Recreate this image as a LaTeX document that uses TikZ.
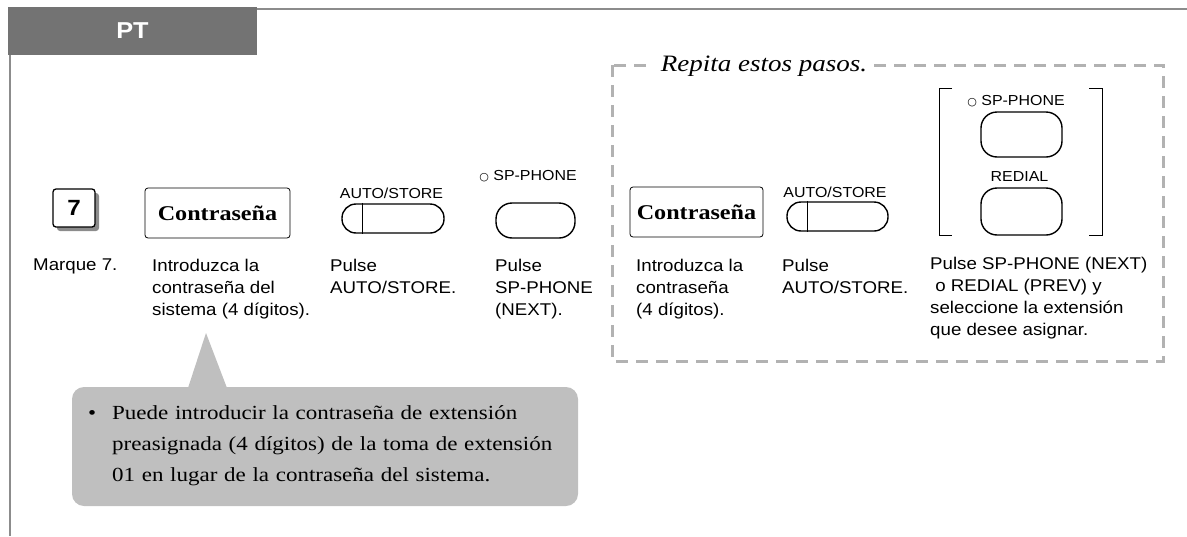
\documentclass[tikz,border=0pt]{standalone}
\usepackage{fontspec}
\setmainfont[FakeStretch=1.15]{Liberation Serif}
\setsansfont[FakeStretch=1.1]{Liberation Sans}
\newfontfamily\symfont{DejaVu Sans}
\usetikzlibrary{positioning, shadows}

\begin{document}
\begin{tikzpicture}[
    x=1pt, y=-1pt,
    frameline/.style={draw=black!45, line width=2.5pt},
    header/.style={rectangle, fill=black!55, text=white, font=\sffamily\bfseries\fontsize{23}{28}\selectfont,
                   minimum width=249pt, minimum height=48pt, inner sep=0pt},
    keybox/.style={rectangle, rounded corners=3pt, draw, line width=1.3pt, fill=white,
                   font=\sffamily\bfseries\fontsize{22}{26}\selectfont, inner sep=0pt,
                   drop shadow={shadow xshift=4pt, shadow yshift=-4pt, fill=black!45, opacity=1}},
    pwbox/.style={rectangle, rounded corners=3pt, draw, line width=0.8pt, inner sep=0pt,
                  font=\bfseries\fontsize{21}{26}\selectfont, minimum height=50pt},
    btnlabel/.style={font=\sffamily\fontsize{14.5}{18}\selectfont, inner sep=0pt},
    stadium/.style={rectangle, draw, line width=1.4pt, rounded corners=14pt, inner sep=0pt},
    softkey/.style={rectangle, draw, line width=1.4pt, rounded corners=16pt, inner sep=0pt},
    steptext/.style={anchor=north west, align=left, inner sep=0pt,
                     font=\sffamily\fontsize{17}{22}\selectfont},
    repeatbox/.style={draw=black!30, line width=3pt, dash pattern=on 12pt off 8pt},
    callout/.style={rectangle, rounded corners=12pt, fill=black!25, inner sep=0pt},
]
\useasboundingbox (0,0) rectangle (1187,536);

%% Frame and header
\node[header] (hdr) at (132.5,31) {PT};
\coordinate (topend) at (1187,9);
\coordinate (leftend) at (10,536);
\draw[frameline] (hdr.north east |- topend) -- (topend);
\draw[frameline] (hdr.south west -| leftend) -- (leftend);

%% Repeat area
\draw[repeatbox] (612,65) rectangle (1163,361);
\node[fill=white, inner xsep=7pt, font=\itshape\fontsize{23.5}{26}\selectfont] (rep) at (764,66) {Repita estos pasos.};

%% Step keys
\node[keybox, minimum width=42pt, minimum height=38pt] (k7) at (74,208) {7};
\node[pwbox, minimum width=145pt] (pw1) at (217.5,213) {Contraseña};

\node[btnlabel] (aslab1) at (391.5,193) {AUTO/STORE};
\node[stadium, minimum width=102pt, minimum height=29pt] (as1) at (393,218.5) {};
\draw[line width=1.4pt] ([xshift=21pt]as1.north west) -- ([xshift=21pt]as1.south west);

\node[btnlabel] (splab1) at (528,176) {{\symfont\fontsize{11}{12}\selectfont ○} SP-PHONE};
\node[softkey, minimum width=79pt, minimum height=35pt] (sp1) at (535.5,220.5) {};

\node[pwbox, minimum width=133pt] (pw2) at (696.5,212) {Contraseña};

\node[btnlabel] (aslab2) at (835,192) {AUTO/STORE};
\node[stadium, minimum width=101pt, minimum height=29pt] (as2) at (837.5,216.5) {};
\draw[line width=1.4pt] ([xshift=21pt]as2.north west) -- ([xshift=21pt]as2.south west);

\node[btnlabel] (splab2) at (1016,101) {{\symfont\fontsize{11}{12}\selectfont ○} SP-PHONE};
\node[softkey, minimum width=81pt, minimum height=45pt] (sp2) at (1021.5,134.5) {};
\node[btnlabel] (rdlab) at (1019.5,177) {REDIAL};
\node[softkey, minimum width=81pt, minimum height=47pt] (rd) at (1021.5,211.5) {};

%% Brackets
\draw[line width=1pt] (952,88) -- (939,88) -- (939,235) -- (952,235);
\draw[line width=1pt] (1089,88) -- (1102,88) -- (1102,235) -- (1089,235);

%% Step texts
\node[steptext] (t1) at (33,259) {Marque 7.};
\node[steptext] (t2) at (152,259) {Introduzca la\\contraseña del\\sistema (4 dígitos).};
\node[steptext] (t3) at (330,259) {Pulse\\AUTO/STORE.};
\node[steptext] (t4) at (495,259) {Pulse\\SP-PHONE\\(NEXT).};
\node[steptext] (t5) at (636,259) {Introduzca la\\contraseña\\(4 dígitos).};
\node[steptext] (t6) at (782,259) {Pulse\\AUTO/STORE.};
\node[steptext] (t7) at (930,257) {Pulse SP-PHONE (NEXT)\\\ o REDIAL (PREV) y\\seleccione la extensión\\que desee asignar.};

%% Note
\node[callout, minimum width=506pt, minimum height=119pt] (note) at (325,446.5) {};
\coordinate (tip) at (206,333);
\fill[black!25] (tip) -- (188,388) -- (227,388) -- cycle;
\node[anchor=north west, text width=470pt, align=left, inner sep=0pt, font=\fontsize{20}{31}\selectfont] (notetext) at (88,405)
  {\makebox[24pt][l]{•}Puede introducir la contraseña de extensión\\
   \hspace*{24pt}preasignada (4 dígitos) de la toma de extensión\\
   \hspace*{24pt}01 en lugar de la contraseña del sistema.};

\end{tikzpicture}
\end{document}
